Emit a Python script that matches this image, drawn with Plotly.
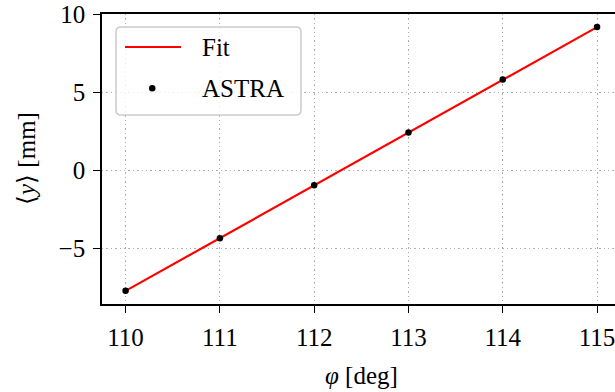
import plotly.graph_objects as go

# Beam centroid vs. launch phase
phi_deg = [110, 111, 112, 113, 114, 115]
y_astra = [-7.72, -4.35, -0.96, 2.41, 5.80, 9.16]

# Linear fit evaluated at the ends of the scan
fit_phi = [110, 115]
fit_y = [-7.72, 9.16]

x_ticks = [110, 111, 112, 113, 114, 115]
y_ticks = [-5, 0, 5, 10]

W, H = 615, 392
ML, MT, MB = 102, 14, 88
PW, PH = W - ML, H - MT - MB
FONT = "Liberation Serif"
FS = 25


def px(x):
    return (x - ML) / PW


def py(y):
    return (H - MB - y) / PH


fig = go.Figure()
fig.add_trace(go.Scatter(x=fit_phi, y=fit_y, mode="lines", name="Fit",
                         line=dict(color="#ff0000", width=2.2)))
fig.add_trace(go.Scatter(x=phi_deg, y=y_astra, mode="markers", name="ASTRA",
                         marker=dict(color="black", size=6.5)))

axis_common = dict(
    showline=True, linecolor="black", linewidth=1.6,
    ticks="outside", ticklen=7, tickwidth=1.4, tickcolor="black",
    showgrid=True, gridcolor="#b0b0b0", gridwidth=1.4, griddash="1.4px,3px",
    zeroline=False, tickfont=dict(family=FONT, size=FS, color="black"),
    ticklabeloverflow="allow",
)

fig.update_xaxes(range=[109.75, 109.75 + PW / 94.3], tickvals=x_ticks,
                 mirror=True, ticklabelstandoff=3, **axis_common)
fig.update_yaxes(range=[-8.56, 10.0], tickvals=y_ticks,
                 ticktext=["\u22125", "0", "5", "10"],
                 ticklabelstandoff=3, **axis_common)

# Legend box with rounded corners
x0, x1, y0, y1 = px(116), px(301), py(115), py(27)
rx, ry = 5 / PW, 5 / PH
path = (f"M {x0+rx},{y0} L {x1-rx},{y0} Q {x1},{y0} {x1},{y0+ry} "
        f"L {x1},{y1-ry} Q {x1},{y1} {x1-rx},{y1} L {x0+rx},{y1} "
        f"Q {x0},{y1} {x0},{y1-ry} L {x0},{y0+ry} Q {x0},{y0} {x0+rx},{y0} Z")
fig.add_shape(type="path", path=path, xref="paper", yref="paper",
              fillcolor="rgba(255,255,255,0.8)",
              line=dict(color="#cccccc", width=1.5), layer="above")
fig.add_shape(type="line", xref="paper", yref="paper",
              x0=px(125), x1=px(181), y0=py(47), y1=py(47),
              line=dict(color="#ff0000", width=2.2), layer="above")
fig.add_shape(type="circle", xref="paper", yref="paper",
              x0=px(149), x1=px(155.5), y0=py(91.5), y1=py(85),
              fillcolor="black", line=dict(color="black", width=0), layer="above")

annots = [
    dict(text="Fit", x=px(200), y=py(47), xanchor="left", yanchor="middle"),
    dict(text="ASTRA", x=px(200), y=py(89), xanchor="left", yanchor="middle"),
    dict(text="<i>\u03c6</i> [deg]", x=px(361), y=py(375),
         xanchor="center", yanchor="middle"),
    dict(text="\u27e8<i>y</i>\u27e9 [mm]", x=px(26), y=py(159),
         xanchor="center", yanchor="middle", textangle=-90),
]
for a in annots:
    fig.add_annotation(xref="paper", yref="paper", showarrow=False,
                       font=dict(family=FONT, size=FS, color="black"), **a)

fig.update_layout(
    width=W, height=H, showlegend=False,
    margin=dict(l=ML, r=0, t=MT, b=MB),
    plot_bgcolor="white", paper_bgcolor="white",
)

fig.write_html("out.html")
